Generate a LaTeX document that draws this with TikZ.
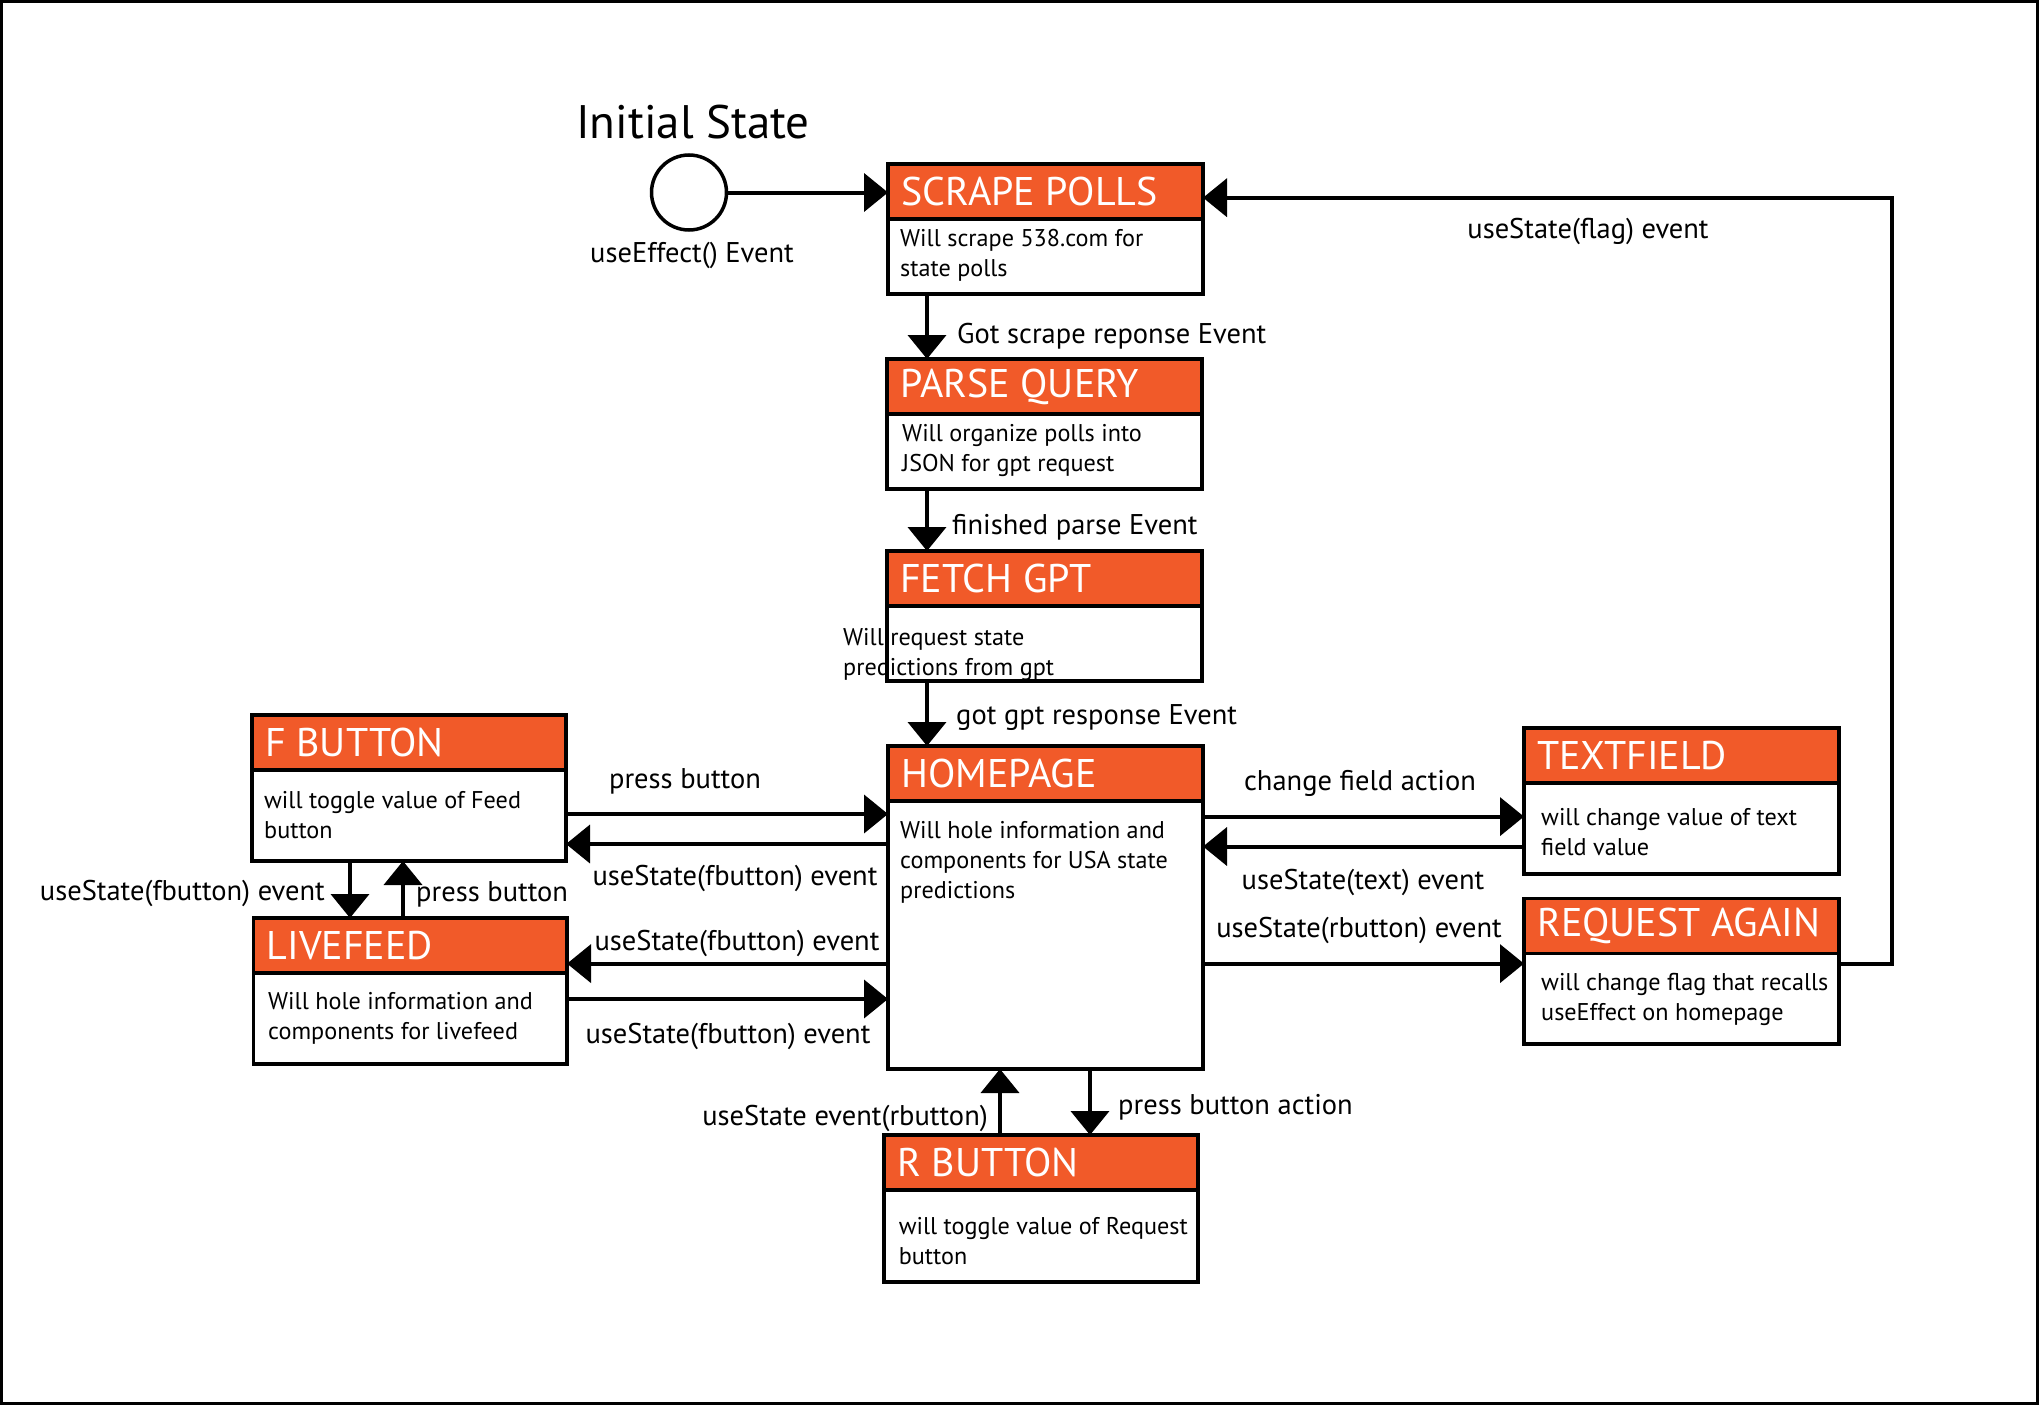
\documentclass[tikz,border=0pt]{standalone}
\usepackage{fontspec}
\setmainfont{PT Sans}
\usetikzlibrary{arrows.meta}
\definecolor{hdr}{RGB}{241,90,41}
\tikzset{
 stframe/.style={draw, line width=3.5pt, fill=white, inner sep=0pt, outer sep=0pt},
 ttl/.style={text=white, font=\fontsize{40}{46}\selectfont, inner sep=0pt, anchor=west},
 bdy/.style={font=\fontsize{24.2}{30}\selectfont, align=left, inner sep=0pt, anchor=west, yshift=-2.5pt},
 lbl/.style={font=\fontsize{28.5}{33}\selectfont, inner sep=0pt, yshift=-3.5pt},
 arr/.style={line width=4pt, -{Triangle[length=24pt,width=38pt]}},
}
\newcommand\stbox[6]{%
 \node[stframe, minimum width=#4pt, minimum height=#5pt, anchor=north west] (#1) at (#2,#3) {};
 \fill[hdr] (#1.north west) rectangle ([yshift=-55pt]#1.north east);
 \draw[line width=3.5pt] ([yshift=-55pt]#1.north west) -- ([yshift=-55pt]#1.north east);
 \draw[line width=3.5pt] (#1.north west) rectangle (#1.south east);
 \node[ttl] (#1-t) at ([xshift=13pt,yshift=-27.5pt]#1.north west) {#6};
}
\begin{document}
\begin{tikzpicture}[x=1pt,y=-1pt]
\useasboundingbox (0,0) rectangle (2039,1405);
\draw[line width=3pt] (1.5,1.5) rectangle (2037.5,1403.5);

% initial state
\node[font=\fontsize{47}{54}\selectfont, inner sep=0pt] (ist) at (693,122.5) {Initial State};
\node[draw, circle, line width=3.5pt, minimum size=75pt, inner sep=0pt] (init) at (689,192.5) {};
\node[lbl] (iev) at (692,252) {useEffect() Event};

% boxes
\stbox{sp}{888}{164}{315}{130}{SCRAPE POLLS}
\node[bdy] (sp-b) at (900,253) {Will scrape 538.com for\\state polls};
\stbox{pq}{887}{359}{315}{130}{PARSE QUERY}
\node[bdy] (pq-b) at (902,448) {Will organize polls into\\JSON for gpt request};
\stbox{fg}{887}{551}{315}{130}{FETCH GPT}
\node[bdy] (fg-b) at (843,652) {Will request state\\predictions from gpt};
\stbox{hp}{888}{746}{315}{323}{HOMEPAGE}
\node[bdy] (hp-b) at (900,860) {Will hole information and\\components for USA state\\predictions};
\stbox{fb}{252}{715}{314}{146}{F BUTTON}
\node[bdy] (fb-b) at (264,813) {will toggle value of Feed\\button};
\stbox{lf}{253.5}{918}{313.5}{146}{LIVEFEED}
\node[bdy] (lf-b) at (268,1016) {Will hole information and\\components for livefeed};
\stbox{tf}{1524}{728}{315}{146}{TEXTFIELD}
\node[bdy] (tf-b) at (1541,830) {will change value of text\\field value};
\stbox{ra}{1524}{898.6}{315}{145.4}{REQUEST AGAIN}
\node[bdy] (ra-b) at (1541,997) {will change flag that recalls\\useEffect on homepage};
\stbox{rb}{884}{1135}{314}{147}{R BUTTON}
\node[bdy] (rb-b) at (898.6,1239) {will toggle value of Request\\button};

% vertical chain
\draw[arr] (init) -- (init -| sp.west);
\coordinate (c1) at ([xshift=39pt]sp.south west);
\draw[arr] (c1) -- (c1 |- pq.north);
\node[lbl, anchor=west] at (957,333) {Got scrape reponse Event};
\coordinate (c2) at ([xshift=40pt]pq.south west);
\draw[arr] (c2) -- (c2 |- fg.north);
\node[lbl, anchor=west] at (952,524) {finished parse Event};
\coordinate (c3) at ([xshift=40pt]fg.south west);
\draw[arr] (c3) -- (c3 |- hp.north);
\node[lbl, anchor=west] at (956,714) {got gpt response Event};

% left side
\draw[arr] ([yshift=-99pt]fb.north east) -- ([yshift=-68pt]hp.north west);
\node[lbl] at (685,777.5) {press button};
\draw[arr] ([yshift=-98pt]hp.north west) -- ([yshift=-129pt]fb.north east);
\node[lbl] at (735,875) {useState(fbutton) event};
\draw[arr] ([yshift=-217.6pt]hp.north west) -- ([yshift=-45.6pt]lf.north east);
\node[lbl] at (737,940) {useState(fbutton) event};
\draw[arr] ([yshift=-81pt]lf.north east) -- ([yshift=-253pt]hp.north west);
\node[lbl] at (728,1032.5) {useState(fbutton) event};
\coordinate (c4) at ([xshift=98pt]fb.south west);
\draw[arr] (c4) -- (c4 |- lf.north);
\node[lbl, anchor=east] at (325,889.5) {useState(fbutton) event};
\coordinate (c5) at ([xshift=151pt]fb.south west);
\draw[arr] (c5 |- lf.north) -- (c5);
\node[lbl, anchor=west] at (416,891) {press button};

% right side
\draw[arr] ([yshift=-70.6pt]hp.north east) -- ([yshift=-88.6pt]tf.north west);
\node[lbl] at (1360,780) {change field action};
\draw[arr] ([yshift=-118.5pt]tf.north west) -- ([yshift=-100.5pt]hp.north east);
\node[lbl] at (1363,879) {useState(text) event};
\draw[arr] ([yshift=-217.6pt]hp.north east) -- ([yshift=-65pt]ra.north west);
\node[lbl] at (1359,927) {useState(rbutton) event};
\draw[arr] ([yshift=-65pt]ra.north east) -- ++(53,0) |- ([yshift=-33.7pt]sp.north east);
\node[lbl] at (1588,227.6) {useState(flag) event};

% bottom
\coordinate (c6) at ([xshift=112pt]hp.south west);
\draw[arr] (c6 |- rb.north) -- (c6);
\node[lbl, anchor=east] at (988,1114.5) {useState event(rbutton)};
\coordinate (c7) at ([xshift=202pt]hp.south west);
\draw[arr] (c7) -- (c7 |- rb.north);
\node[lbl, anchor=west] at (1118,1104) {press button action};
\end{tikzpicture}
\end{document}
